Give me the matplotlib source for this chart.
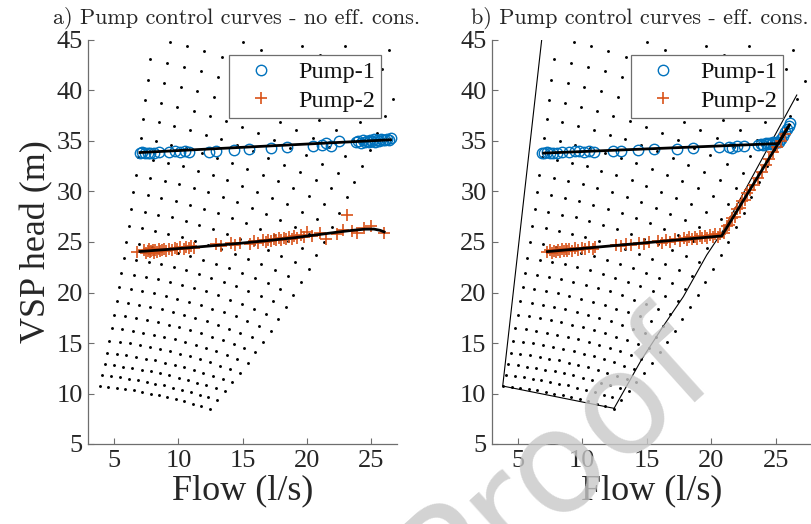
import numpy as np
import matplotlib
matplotlib.use("Agg")
import matplotlib.pyplot as plt

# %% pump map lattice: base curve (lowest speed) and speed ratios
q_base = [3.89, 4.55, 5.20, 5.86, 6.51, 7.17, 7.83, 8.48, 9.14, 9.79, 10.45, 11.11, 11.76, 12.42]
h_base = [10.74, 10.65, 10.55, 10.44, 10.30, 10.16, 10.00, 9.83, 9.64, 9.44, 9.23, 9.00, 8.76, 8.50]
speeds = [1.000, 1.048, 1.096, 1.143, 1.191, 1.239, 1.287, 1.334, 1.382, 1.430,
          1.478, 1.525, 1.573, 1.621, 1.669, 1.716, 1.764, 1.812, 1.860, 1.907,
          1.955, 2.003, 2.051, 2.099, 2.146, 2.194, 2.242, 2.290]

# %% a) no efficiency constraint
p1a_q = [7.0, 7.2, 7.4, 7.6, 7.8, 8.1, 8.5, 9.3, 9.7, 10.1, 10.5, 10.8, 12.35, 12.95, 14.3,
         15.5, 17.2, 18.45, 20.5, 21.2, 21.45, 21.9, 22.45, 23.8, 24.0, 24.2, 24.35, 24.5,
         24.65, 24.8, 24.9, 25.05, 25.2, 25.3, 25.45, 25.6, 25.75, 25.9, 26.05, 26.2, 26.35, 26.5]
p1a_h = [33.84, 33.88, 33.82, 33.86, 33.8, 33.84, 33.9, 33.94, 34.0, 33.94, 34.0, 33.94,
         33.94, 34.04, 34.1, 34.2, 34.33, 34.43, 34.5, 34.6, 34.77, 34.5, 35.0, 34.93, 35.0,
         34.83, 35.1, 34.93, 35.03, 34.9, 35.1, 35.0, 35.17, 34.95, 35.1, 35.0, 35.17, 35.05,
         35.1, 35.2, 35.1, 35.27]
fit1a_q = [7.0, 26.5]
fit1a_h = [33.86, 35.12]

p2a_q = [6.75, 7.3, 7.45, 7.6, 7.7, 7.8, 7.9, 8.0, 8.1, 8.2, 8.3, 8.45, 8.6, 8.75, 8.9, 9.05,
         9.3, 9.5, 9.7, 9.9, 10.1, 10.4, 10.6, 10.8, 11.0, 11.2, 12.9, 13.3, 14.1, 14.4, 14.8,
         15.6, 15.9, 16.2, 16.6, 16.8, 17.0, 17.2, 17.4, 17.6, 17.8, 18.0, 18.2, 18.4, 18.6,
         18.8, 19.0, 19.2, 19.5, 19.8, 20.0, 20.4, 21.0, 21.5, 22.3, 22.8, 23.1, 23.5, 23.9,
         24.4, 25.0, 26.0]
p2a_h = [24.05, 24.2, 23.95, 24.15, 24.3, 24.0, 24.1, 24.25, 23.95, 24.2, 24.05, 24.3, 24.1,
         24.2, 24.35, 24.15, 24.3, 24.2, 24.4, 24.3, 24.5, 24.35, 24.55, 24.4, 24.6, 24.45,
         24.8, 24.65, 24.9, 24.7, 24.95, 24.85, 25.1, 24.95, 25.15, 25.0, 25.2, 25.05, 25.3,
         25.15, 25.35, 25.2, 25.4, 25.25, 25.5, 25.3, 25.55, 25.4, 25.7, 25.5, 26.0, 25.6,
         25.9, 25.25, 25.75, 26.2, 27.65, 26.05, 25.85, 26.35, 26.6, 25.85]
fit2a_q = [7.0, 9.0, 11.0, 13.0, 15.0, 17.0, 19.0, 21.0, 22.5, 23.5, 24.5, 25.2, 25.7, 26.0]
fit2a_h = [24.06, 24.25, 24.45, 24.67, 24.9, 25.15, 25.42, 25.75, 26.0, 26.15, 26.27, 26.28, 26.15, 26.0]

# %% b) with efficiency constraint
p1b_q = [6.85, 7.05, 7.25, 7.5, 7.7, 8.0, 8.4, 9.0, 9.4, 9.75, 10.15, 10.55, 10.9, 12.4, 13.0,
         14.3, 15.55, 17.3, 18.55, 20.6, 21.35, 21.6, 22.0, 22.55, 23.65, 23.85, 24.0, 24.2,
         24.35, 24.5, 24.65, 24.8, 24.95, 25.1, 25.25, 25.4, 25.55, 25.7, 25.85, 26.0, 26.1]
p1b_h = [33.85, 33.8, 33.88, 33.82, 33.86, 33.8, 33.9, 33.92, 33.98, 34.0, 33.96, 34.02, 33.96,
         34.0, 34.05, 34.12, 34.18, 34.22, 34.3, 34.4, 34.45, 34.35, 34.5, 34.55, 34.6, 34.75,
         34.65, 34.8, 34.7, 34.85, 34.75, 34.9, 34.8, 34.9, 34.86, 35.2, 35.5, 35.85, 36.2,
         36.5, 36.75]
fit1b_q = [7.0, 25.2, 26.05]
fit1b_h = [33.8, 34.75, 36.6]

p2b_q = [7.3, 7.5, 7.65, 7.8, 7.95, 8.1, 8.25, 8.4, 8.55, 8.7, 8.85, 9.0, 9.2, 9.45, 9.7, 9.95,
         10.2, 10.5, 10.8, 11.0, 12.6, 13.0, 13.4, 13.8, 14.4, 14.8, 15.2, 15.9, 16.2, 16.5,
         16.8, 17.2, 17.6, 17.9, 18.1, 18.3, 18.5, 18.7, 18.9, 19.1, 19.3, 19.5, 19.7, 19.9,
         20.1, 20.3, 20.5, 20.7, 21.0, 21.2, 21.4, 21.6, 21.8, 22.0, 22.2, 22.4, 22.6, 22.8,
         23.0, 23.3, 23.6, 23.9, 24.2, 24.5, 24.8, 25.1, 25.4, 25.7]
p2b_h = [24.05, 24.2, 23.9, 24.15, 24.0, 24.25, 24.05, 24.3, 24.1, 24.35, 24.1, 24.3, 24.15,
         24.4, 24.2, 24.45, 24.3, 24.5, 24.35, 24.55, 24.7, 24.6, 24.85, 24.7, 24.95, 24.8,
         25.0, 25.1, 24.9, 25.2, 25.0, 25.25, 25.1, 25.4, 25.15, 25.45, 25.25, 25.5, 25.3,
         25.55, 25.35, 25.6, 25.4, 25.7, 25.45, 25.75, 25.5, 25.8, 25.9, 26.6, 26.7, 27.4,
         27.5, 28.3, 28.4, 29.1, 29.2, 29.9, 30.1, 30.6, 31.3, 31.9, 32.6, 33.2, 33.9, 34.4,
         35.0, 35.7]
fit2b_q = [7.3, 20.8, 25.97]
fit2b_h = [24.05, 25.6, 36.4]

# efficiency constraint boundary (thin lines)
bnd_left_q = [6.92, 3.83, 12.46]
bnd_left_h = [45.8, 10.74, 8.53]
bnd_right_q = [12.46, 14.6, 16.28, 17.83, 19.64, 20.93, 26.62]
bnd_right_h = [8.53, 13.38, 16.68, 19.59, 23.71, 26.19, 39.55]

# %% figure
plt.rcParams['font.family'] = ['Liberation Serif', 'DejaVu Serif']
fig = plt.figure(figsize=(8.12, 5.24), dpi=100)
ax1 = fig.add_axes([88.5 / 812, 80 / 524, 308.5 / 812, 404 / 524])
ax2 = fig.add_axes([492 / 812, 80 / 524, 320 / 812, 404 / 524])

blue = '#0072BD'
orange = '#D95319'
grid_q = np.outer(speeds, q_base)
grid_h = np.outer(np.square(speeds), h_base)

for ax, xmax in ((ax1, 27.0), (ax2, 27.8)):
    ax.plot(grid_q.ravel(), grid_h.ravel(), 'o', color='k', ms=2.1, mew=0, zorder=1)
    ax.set_xlim(3, xmax)
    ax.set_ylim(5, 45)
    ax.set_xticks([5, 10, 15, 20, 25])
    ax.set_yticks(range(5, 50, 5))
    for s in ('top', 'right'):
        ax.spines[s].set_visible(False)
    for s in ('left', 'bottom'):
        ax.spines[s].set_color('#6e6e6e')
        ax.spines[s].set_linewidth(0.9)
    ax.tick_params(direction='in', length=4, width=0.8, color='#6e6e6e',
                   labelsize=19, labelcolor='#262626', pad=4)
    ax.set_xlabel('Flow (l/s)', fontsize=26, color='#262626', labelpad=2)

ax1.set_ylabel('VSP head (m)', fontsize=26, color='#262626', labelpad=2)

# a)
ax1.plot(p1a_q, p1a_h, 'o', mfc='none', mec=blue, ms=7.5, mew=1.0, label='Pump-1', zorder=3)
ax1.plot(p2a_q, p2a_h, '+', color=orange, ms=9, mew=1.2, label='Pump-2', zorder=3)
ax1.plot(fit1a_q, fit1a_h, '-', color='k', lw=2, zorder=4)
ax1.plot(fit2a_q, fit2a_h, '-', color='k', lw=2, zorder=4)

# b)
ax2.plot(bnd_left_q, bnd_left_h, '-', color='k', lw=0.8, zorder=2)
ax2.plot(bnd_right_q, bnd_right_h, '-', color='k', lw=0.8, zorder=2)
ax2.plot(p1b_q, p1b_h, 'o', mfc='none', mec=blue, ms=7.5, mew=1.0, label='Pump-1', zorder=3)
ax2.plot(p2b_q, p2b_h, '+', color=orange, ms=9, mew=1.2, label='Pump-2', zorder=3)
ax2.plot(fit1b_q, fit1b_h, '-', color='k', lw=2, zorder=4)
ax2.plot(fit2b_q, fit2b_h, '-', color='k', lw=2, zorder=4)

for ax, xa in ((ax1, 0.948), (ax2, 0.909)):
    leg = ax.legend(loc='upper right', bbox_to_anchor=(xa, 0.963), borderaxespad=0,
                    fontsize=17.5, fancybox=False, framealpha=1, edgecolor='#6e6e6e',
                    handlelength=2.2, handletextpad=0.4, borderpad=0.25, labelspacing=0.28)
    leg.get_frame().set_linewidth(0.9)
    for t in leg.get_texts():
        t.set_color('#111111')

fig.text(237 / 812, 1 - 24 / 524, 'a) Pump control curves - no eff. cons.', family='cmr10',
         fontsize=16, ha='center', va='baseline', color='#262626')
fig.text(640 / 812, 1 - 24 / 524, 'b) Pump control curves - eff. cons.', family='cmr10',
         fontsize=16, ha='center', va='baseline', color='#262626')

# watermark
fig.text(556 / 812, 1 - 462 / 524, 'Proof', family='DejaVu Sans', fontsize=103,
         rotation=42, ha='center', va='center', color='#c8c8c8', alpha=0.8, zorder=10)

fig.savefig('out.png', dpi=100)
